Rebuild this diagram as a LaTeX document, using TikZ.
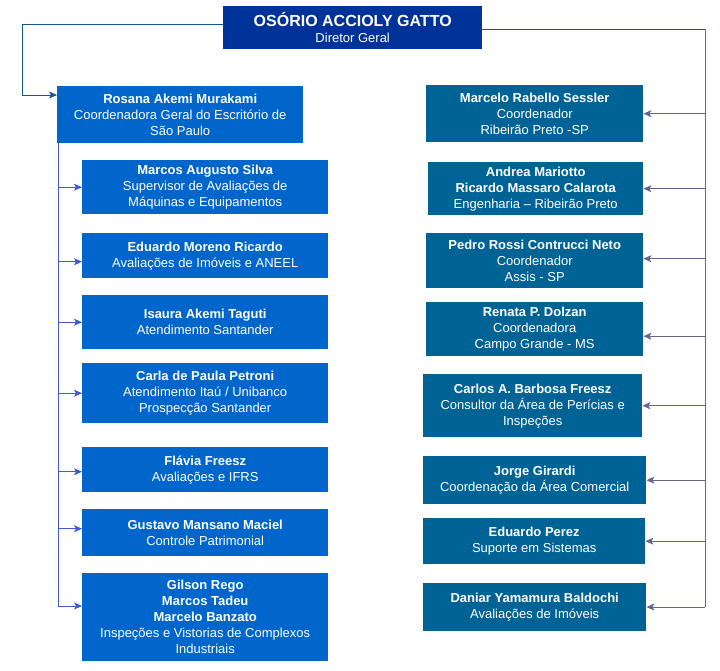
\documentclass[tikz,border=0pt]{standalone}
\usepackage{fontspec}
\setmainfont{Liberation Sans}
\usepackage{xcolor}
\usetikzlibrary{positioning,arrows.meta}

\definecolor{azulchefe}{RGB}{0,51,153}
\definecolor{azulsp}{RGB}{0,102,204}
\definecolor{azulrp}{RGB}{0,99,150}
\definecolor{linhasp}{RGB}{60,90,215}
\definecolor{linharp}{RGB}{100,100,150}
\definecolor{linhatopo}{RGB}{25,85,140}

\tikzset{
  caixa/.style={anchor=north west, inner sep=0pt, align=center, text=white,
    font=\fontsize{13}{16}\selectfont},
  caixasp/.style={caixa, fill=azulsp},
  caixarp/.style={caixa, fill=azulrp},
  linha/.style={line width=0.9pt},
  seta/.style={linha, -{Stealth[length=8pt,width=7pt,inset=2pt]}},
}

\begin{document}
\begin{tikzpicture}[x=1pt,y=-1pt]
\useasboundingbox (0,0) rectangle (720,670);

% diretor
\node[caixa, fill=azulchefe, minimum width=259pt, minimum height=43pt] (chefe) at (223,6)
  {{\fontsize{16}{18}\selectfont\bfseries OSÓRIO ACCIOLY GATTO}\\Diretor Geral};

% escritorio de sao paulo
\node[caixasp, minimum width=246pt, minimum height=57pt] (rosana) at (57,86)
  {{\bfseries Rosana Akemi Murakami}\\Coordenadora Geral do Escritório de\\São Paulo};
\node[caixasp, minimum width=246pt, minimum height=54pt] (marcos) at (82,160)
  {{\bfseries Marcos Augusto Silva}\\Supervisor de Avaliações de\\Máquinas e Equipamentos};
\node[caixasp, minimum width=246pt, minimum height=45pt] (eduardo) at (82,233)
  {{\bfseries Eduardo Moreno Ricardo}\\Avaliações de Imóveis e ANEEL};
\node[caixasp, minimum width=246pt, minimum height=54pt] (isaura) at (82,295)
  {{\bfseries Isaura Akemi Taguti}\\Atendimento Santander};
\node[caixasp, minimum width=246pt, minimum height=60pt] (carla) at (82,363)
  {{\bfseries Carla de Paula Petroni}\\Atendimento Itaú / Unibanco\\Prospecção Santander};
\node[caixasp, minimum width=246pt, minimum height=45pt] (flavia) at (82,447)
  {{\bfseries Flávia Freesz}\\Avaliações e IFRS};
\node[caixasp, minimum width=246pt, minimum height=47pt] (gustavo) at (82,509)
  {{\bfseries Gustavo Mansano Maciel}\\Controle Patrimonial};
\node[caixasp, minimum width=246pt, minimum height=88pt] (gilson) at (82,573)
  {{\bfseries Gilson Rego}\\{\bfseries Marcos Tadeu}\\{\bfseries Marcelo Banzato}\\Inspeções e Vistorias de Complexos\\Industriais};

% demais unidades
\node[caixarp, minimum width=217pt, minimum height=57pt] (marcelo) at (426,85)
  {{\bfseries Marcelo Rabello Sessler}\\Coordenador\\Ribeirão Preto -SP};
\node[caixarp, minimum width=215pt, minimum height=53pt] (andrea) at (428,162)
  {{\bfseries Andrea Mariotto}\\{\bfseries Ricardo Massaro Calarota}\\Engenharia -- Ribeirão Preto};
\node[caixarp, minimum width=217pt, minimum height=55pt] (pedro) at (426,233)
  {{\bfseries Pedro Rossi Contrucci Neto}\\Coordenador\\Assis - SP};
\node[caixarp, minimum width=217pt, minimum height=54pt] (renata) at (426,302)
  {{\bfseries Renata P. Dolzan}\\Coordenadora\\Campo Grande - MS};
\node[caixarp, minimum width=219pt, minimum height=63pt] (carlos) at (423,374)
  {{\bfseries Carlos A. Barbosa Freesz}\\Consultor da Área de Perícias e\\Inspeções};
\node[caixarp, minimum width=223pt, minimum height=48pt] (jorge) at (423,456)
  {{\bfseries Jorge Girardi}\\Coordenação da Área Comercial};
\node[caixarp, minimum width=222pt, minimum height=46pt] (perez) at (423,518)
  {{\bfseries Eduardo Perez}\\Suporte em Sistemas};
\node[caixarp, minimum width=223pt, minimum height=48pt] (daniar) at (423,583)
  {{\bfseries Daniar Yamamura Baldochi}\\Avaliações de Imóveis};

% ligacoes lado esquerdo
\coordinate (cantoesq) at (22,24);
\coordinate (entrada) at (22,95);
\draw[linha, linhatopo] (chefe.west |- cantoesq) -- (cantoesq) -- (entrada);
\draw[seta, linhatopo] (entrada) -- (entrada -| rosana.west);

\coordinate (troncoesq) at (58,143);
\coordinate (fimesq) at (58,606);
\draw[linha, linhasp] (troncoesq) -- (fimesq);
\foreach \n/\d in {marcos/0,eduardo/-6,isaura/0,carla/0,flavia/-2,gustavo/4}{
  \coordinate (alvo) at ([yshift=\d pt]\n.west);
  \draw[seta, linhasp] (troncoesq |- alvo) -- (alvo);
}
\draw[seta, linhasp] (fimesq) -- (fimesq -| gilson.west);

% ligacoes lado direito
\coordinate (cantodir) at (705,29);
\coordinate (fimdir) at (705,607);
\draw[linha, linhatopo] (chefe.east |- cantodir) -- (cantodir);
\draw[linha, linharp] (cantodir) -- (fimdir);
\foreach \n/\d in {marcelo/0,andrea/0,pedro/2,renata/-7,carlos/0,jorge/0,perez/0}{
  \coordinate (alvo) at ([yshift=\d pt]\n.east);
  \draw[seta, linharp] (cantodir |- alvo) -- (alvo);
}
\draw[seta, linharp] (fimdir) -- (fimdir -| daniar.east);
\end{tikzpicture}
\end{document}
